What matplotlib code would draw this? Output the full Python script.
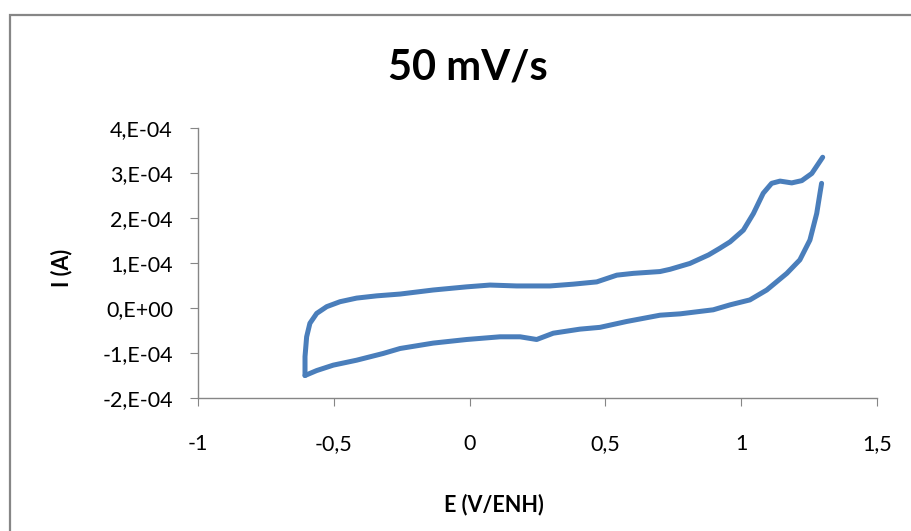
import numpy as np
import matplotlib
matplotlib.use('Agg')
import matplotlib.pyplot as plt
from matplotlib.patches import Rectangle

plt.rcParams['font.family'] = ['Lato', 'DejaVu Sans']

# Forward (anodic) scan, E in V/ENH, I in units of 1e-4 A
E_fwd = [-0.606, -0.606, -0.600, -0.588, -0.563, -0.526, -0.477, -0.416, -0.342, -0.256,
         -0.134, -0.011, 0.075, 0.173, 0.296, 0.382, 0.468, 0.542, 0.603, 0.701,
         0.738, 0.811, 0.880, 0.922, 0.959, 1.008, 1.045, 1.081, 1.112, 1.143,
         1.186, 1.223, 1.260, 1.300]
I_fwd = [-1.50, -1.08, -0.64, -0.34, -0.12, 0.03, 0.14, 0.22, 0.27, 0.31,
         0.40, 0.47, 0.51, 0.49, 0.49, 0.53, 0.58, 0.73, 0.77, 0.81,
         0.86, 0.99, 1.18, 1.33, 1.47, 1.73, 2.10, 2.55, 2.77, 2.82,
         2.78, 2.83, 2.99, 3.35]

# Reverse (cathodic) scan
E_rev = [1.296, 1.290, 1.278, 1.253, 1.216, 1.168, 1.094, 1.032, 0.959, 0.897,
         0.775, 0.701, 0.578, 0.480, 0.406, 0.308, 0.247, 0.186, 0.112, -0.011,
         -0.134, -0.256, -0.318, -0.416, -0.502, -0.563, -0.606]
I_rev = [2.77, 2.55, 2.10, 1.51, 1.07, 0.77, 0.40, 0.18, 0.07, -0.04,
         -0.13, -0.16, -0.30, -0.43, -0.47, -0.56, -0.70, -0.64, -0.64, -0.70,
         -0.78, -0.90, -1.01, -1.16, -1.27, -1.39, -1.50]

x_ticks = [-1, -0.5, 0, 0.5, 1, 1.5]
x_labels = ['-1', '-0,5', '0', '0,5', '1', '1,5']
y_ticks = [-2e-4, -1e-4, 0, 1e-4, 2e-4, 3e-4, 4e-4]
y_labels = ['-2,E-04', '-1,E-04', '0,E+00', '1,E-04', '2,E-04', '3,E-04', '4,E-04']

fig = plt.figure(figsize=(9.11, 5.31), dpi=100)
ax = fig.add_axes([198/911, 1 - 398/531, (877 - 198)/911, (398 - 128)/531])

blue = '#4a7ebb'
ax.plot(E_fwd, np.array(I_fwd) * 1e-4, color=blue, lw=3.6, solid_capstyle='round', solid_joinstyle='round')
ax.plot(E_rev, np.array(I_rev) * 1e-4, color=blue, lw=3.6, solid_capstyle='round', solid_joinstyle='round')

ax.set_xlim(-1, 1.5)
ax.set_ylim(-2e-4, 4e-4)
ax.set_xticks(x_ticks)
ax.set_xticklabels(x_labels)
ax.set_yticks(y_ticks)
ax.set_yticklabels(y_labels)

for s in ['top', 'right']:
    ax.spines[s].set_visible(False)
for s in ['left', 'bottom']:
    ax.spines[s].set_color('#868686')
    ax.spines[s].set_linewidth(1.0)
ax.tick_params(axis='x', direction='out', length=6, color='#868686', labelsize=15.5, pad=20)
ax.tick_params(axis='y', direction='out', length=6, color='#868686', labelsize=15.5, pad=12)

fig.text(468/911, 1 - 68/531, '50 mV/s', ha='center', va='center', fontsize=30, fontweight='bold')
fig.text(62/911, 1 - 268/531, 'I (A)', ha='center', va='center', rotation=90, fontsize=15.5, fontweight='bold')
fig.text(494/911, 1 - 505/531, 'E (V/ENH)', ha='center', va='center', fontsize=15.5, fontweight='bold')

# chart area border (right and bottom edges fall outside the image)
fig.patches.append(Rectangle((10/911, -0.1), 1.2, 1.1 - 15/531, transform=fig.transFigure,
                             fill=False, edgecolor='#868686', lw=1.6, zorder=0))

fig.savefig('out.png', dpi=100)
